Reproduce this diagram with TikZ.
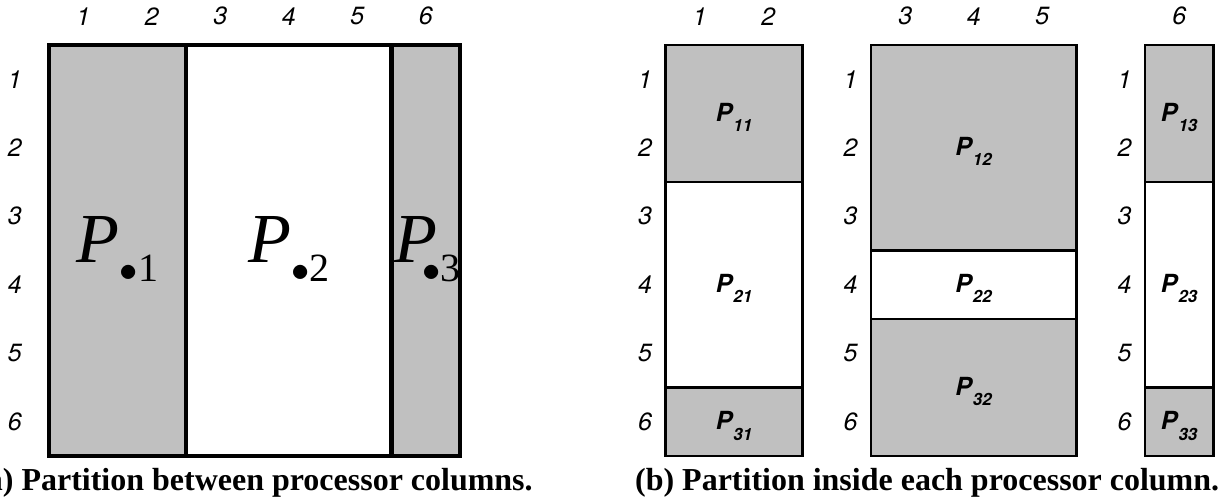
\documentclass[tikz,border=0pt]{standalone}
\usepackage{fontspec}
\setmainfont{Liberation Serif}
\setsansfont{TeX Gyre Heros}
\usetikzlibrary{positioning}
\usepackage{xcolor}
\definecolor{cellgray}{HTML}{C0C0C0}
\definecolor{rule}{HTML}{000000}

% processor labels: big P.j on the left, small P_ij on the right
\newcommand{\colP}[2][0pt]{\textit{P}\kern#1\raisebox{-10.8pt}{\fontsize{22.8pt}{22.8pt}\selectfont$\bullet$#2}}
\newcommand{\blkP}[1]{\textbf{\textit{P}}\raisebox{-5.7pt}{\fontsize{9.6pt}{9.6pt}\selectfont\textbf{\textit{#1}}}}

\begin{document}
\begin{tikzpicture}[x=1.37cm,y=1.37cm,
    every node/.style={inner sep=0pt},
    idx/.style={font=\sffamily\itshape\fontsize{14.2pt}{14.2pt}\selectfont},
    bigproc/.style={anchor=base,font=\fontsize{40pt}{40pt}\selectfont},
    smallproc/.style={anchor=base,font=\sffamily\fontsize{14.2pt}{14.2pt}\selectfont},
    captxt/.style={anchor=base,font=\bfseries\fontsize{18.2pt}{18.2pt}\selectfont},
    heavy/.style={draw=rule,line width=2.3pt},
    light/.style={draw=rule,line width=1.2pt}
  ]
    \useasboundingbox (-0.715,0.657) rectangle (17.095,-6.686);

    % (a) one block per processor column
    \fill[cellgray] (0,0) rectangle (2,-6);
    \fill[cellgray] (5,0) rectangle (6,-6);
    \draw[heavy] (0,0) rectangle (6,-6);
    \draw[heavy] (2,0) -- (2,-6);
    \draw[heavy] (5,0) -- (5,-6);
    \node[bigproc] (pa1) at (1,-3.17) {\colP{1}};
    \node[bigproc] (pa2) at (3.5,-3.17) {\colP{2}};
    \node[bigproc] (pa3) at (5.53,-3.17) {\colP[-8.5pt]{3}};

    % (b) each column cut into rows
    \fill[cellgray] (9,0) rectangle (11,-2);
    \fill[cellgray] (9,-5) rectangle (11,-6);
    \draw[light] (9,0) rectangle (11,-6);
    \draw[light] (9,-2) -- (11,-2);
    \draw[light] (9,-5) -- (11,-5);

    \fill[cellgray] (12,0) rectangle (15,-3);
    \fill[cellgray] (12,-4) rectangle (15,-6);
    \draw[light] (12,0) rectangle (15,-6);
    \draw[light] (12,-3) -- (15,-3);
    \draw[light] (12,-4) -- (15,-4);

    \fill[cellgray] (16,0) rectangle (17,-2);
    \fill[cellgray] (16,-5) rectangle (17,-6);
    \draw[light] (16,0) rectangle (17,-6);
    \draw[light] (16,-2) -- (17,-2);
    \draw[light] (16,-5) -- (17,-5);

    \node[smallproc] (p11) at (10,-1.12) {\blkP{11}};
    \node[smallproc] (p21) at (10,-3.62) {\blkP{21}};
    \node[smallproc] (p31) at (10,-5.62) {\blkP{31}};
    \node[smallproc] (p12) at (13.5,-1.62) {\blkP{12}};
    \node[smallproc] (p22) at (13.5,-3.62) {\blkP{22}};
    \node[smallproc] (p32) at (13.5,-5.12) {\blkP{32}};
    \node[smallproc] (p13) at (16.5,-1.12) {\blkP{13}};
    \node[smallproc] (p23) at (16.5,-3.62) {\blkP{23}};
    \node[smallproc] (p33) at (16.5,-5.62) {\blkP{33}};

    % column and row indices
    \foreach \j in {1,...,6}
      \node[idx] (ca\j) at (\j-0.5,0.42) {\j};
    \foreach \j/\x in {1/9.5,2/10.5,3/12.5,4/13.5,5/14.5,6/16.5}
      \node[idx] (cb\j) at (\x,0.42) {\j};
    \foreach \b/\x in {a/-0.5,b/8.7,c/11.7,d/15.7}
      \foreach \i in {1,...,6}
        \node[idx] (r\b\i) at (\x,-\i+0.5) {\i};

    \node[captxt] (capa) at (3.0,-6.51) {(a) Partition between processor columns.};
    \node[captxt] (capb) at (12.82,-6.51) {(b) Partition inside each processor column.};
  \end{tikzpicture}
\end{document}
